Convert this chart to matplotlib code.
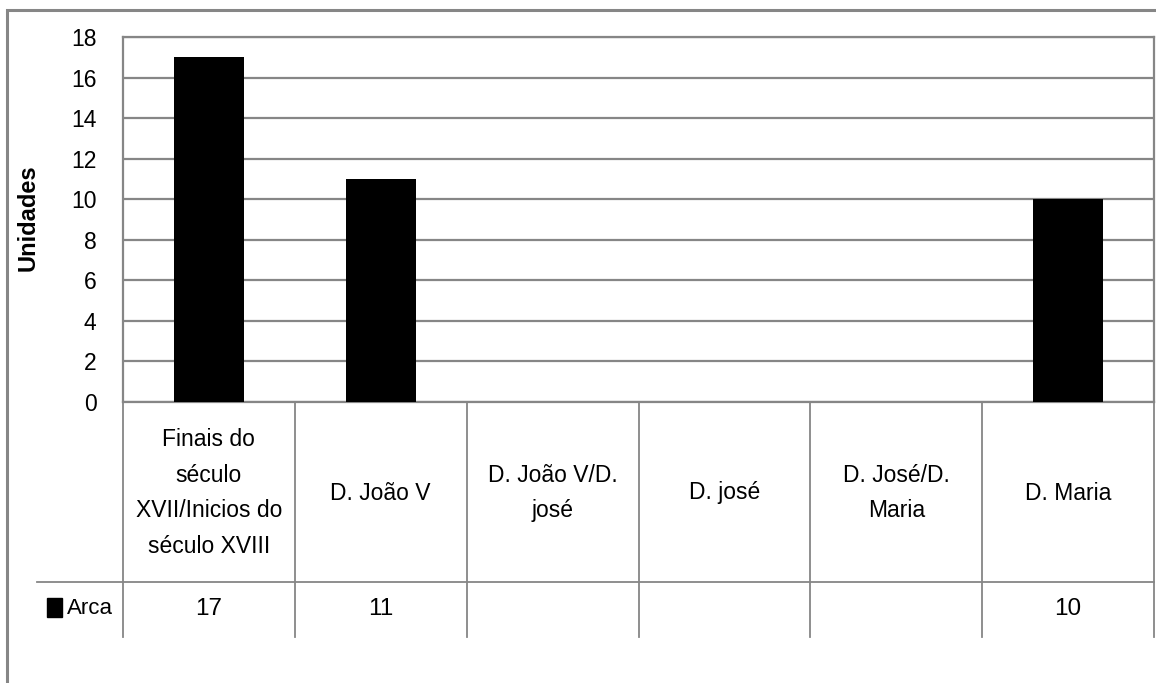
import matplotlib
matplotlib.use("Agg")
import matplotlib.pyplot as plt
import numpy as np
from matplotlib.patches import Rectangle
from matplotlib.lines import Line2D
import matplotlib.transforms as mtransforms

categories = ["Finais do\nséculo\nXVII/Inicios do\nséculo XVIII", "D. João V",
              "D. João V/D.\njosé", "D. josé", "D. José/D.\nMaria", "D. Maria"]
series_name = "Arca"
values = [17, 11, None, None, None, 10]
yticks = [0, 2, 4, 6, 8, 10, 12, 14, 16, 18]
ylabel = "Unidades"

W, H = 1156, 683
plt.rcParams['font.family'] = ['Liberation Sans', 'DejaVu Sans']
fig = plt.figure(figsize=(W / 100, H / 100), dpi=100)

def fx(px):
    return px / W

def fy(py):
    return 1 - py / H

grey = "#868686"
left, right, top, bottom = 123, 1154, 37, 402
ax = fig.add_axes([fx(left), fy(bottom), fx(right) - fx(left), fy(top) - fy(bottom)])

x = np.arange(len(categories))
vals = np.array([np.nan if v is None else v for v in values], dtype=float)
ax.bar(x, vals, width=0.41, color="black", zorder=3)
ax.set_xlim(-0.5, len(categories) - 0.5)
ax.set_ylim(0, 18)
ax.set_yticks(yticks)
ax.set_yticklabels([str(t) for t in yticks], fontsize=16.5)
ax.set_xticks([])
ax.tick_params(axis='y', length=0, pad=19)
ax.yaxis.grid(True, color=grey, linewidth=1.6, zorder=0)
for s in ax.spines.values():
    s.set_color(grey)
    s.set_linewidth(1.6)

# y axis title
fig.text(fx(28), fy(218), ylabel, rotation=90, ha="center", va="center",
         fontsize=17, fontweight="bold")

# data table
trans = mtransforms.blended_transform_factory(ax.transData, fig.transFigure)
row_y = 582
tab_bottom = 637
for i in range(len(categories) + 1):
    xe = i - 0.5
    fig.add_artist(Line2D([xe, xe], [fy(bottom), fy(tab_bottom)], transform=trans,
                          color=grey, linewidth=1.3))
fig.add_artist(Line2D([fx(37), fx(right)], [fy(row_y), fy(row_y)],
                      transform=fig.transFigure, color=grey, linewidth=1.3))
for i, cat in enumerate(categories):
    fig.text(i, fy(493), cat, transform=trans, ha="center", va="center",
             fontsize=16.5, linespacing=1.72)
    if values[i] is not None:
        fig.text(i, fy(609), str(values[i]), transform=trans,
                 ha="center", va="center", fontsize=17.5)
fig.add_artist(Rectangle((fx(47), fy(617)), fx(62) - fx(47), fy(598) - fy(617),
                         transform=fig.transFigure, color="black"))
fig.text(fx(67), fy(608), series_name, ha="left", va="center", fontsize=16)

# outer chart border
fig.add_artist(Rectangle((fx(7), fy(700)), fx(1170) - fx(7), fy(10) - fy(700),
                         transform=fig.transFigure, fill=False, edgecolor=grey,
                         linewidth=2.2))

fig.savefig("out.png", dpi=100, facecolor="white")
